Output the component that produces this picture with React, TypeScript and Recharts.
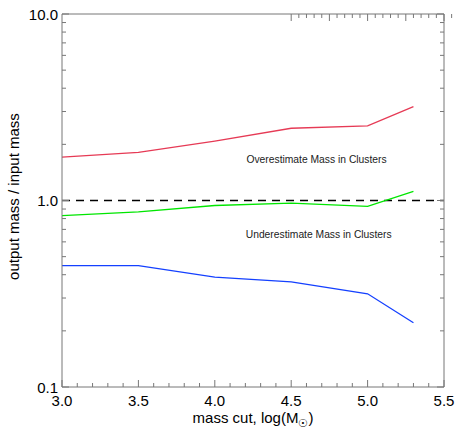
import { LineChart, Line, XAxis, YAxis, ReferenceLine, ReferenceDot, Label } from "recharts";

// mass cut, log(Msun)
const massCut = [3.0, 3.5, 4.0, 4.5, 5.0, 5.3];
// output mass / input mass for each run
const overRatio = [1.71, 1.81, 2.08, 2.44, 2.51, 3.19];
const matchRatio = [0.83, 0.87, 0.94, 0.967, 0.93, 1.12];
const underRatio = [0.447, 0.447, 0.388, 0.366, 0.316, 0.221];

const xMajorTicks = [3.0, 3.5, 4.0, 4.5, 5.0, 5.5];
const xMinorTicks = [
    3.1, 3.2, 3.3, 3.4, 3.6, 3.7, 3.8, 3.9, 4.1, 4.2, 4.3, 4.4,
    4.6, 4.7, 4.8, 4.9, 5.1, 5.2, 5.3, 5.4
];
const yMajorTicks = [0.1, 1, 10];
const yMinorTicks = [0.2, 0.3, 0.4, 0.5, 0.6, 0.7, 0.8, 0.9, 2, 3, 4, 5, 6, 7, 8, 9];

const xAllTicks = [...xMajorTicks, ...xMinorTicks];
const yAllTicks = [...yMajorTicks, ...yMinorTicks];

const AXIS = "#777";
const FONT = "'Liberation Sans', Arial, Helvetica, sans-serif";
const LABEL_SIZE = 15;

const chartData = massCut.map((m, i) => ({
    m,
    over: overRatio[i],
    match: matchRatio[i],
    under: underRatio[i]
}));

const xDomain: [number, number] = [3, 5.5];
const yDomain: [number, number] = [0.1, 10];

// inward tick marks (IDL style), labels only on the bottom / left side
const makeTick = (side: "bottom" | "top" | "left" | "right", majors: number[]) => (props: any) => {
    const { x, y, payload } = props;
    const major = majors.includes(payload.value);
    const len = major ? 7 : 4;
    if (side === "bottom") {
        return (
            <g>
                <line x1={x} y1={y} x2={x} y2={y - len} stroke={AXIS} />
                {major && (
                    <text x={x} y={y + 18.5} textAnchor="middle" fontSize={LABEL_SIZE} fill="#000">
                        {payload.value.toFixed(1)}
                    </text>
                )}
            </g>
        );
    }
    if (side === "top") return <line x1={x} y1={y} x2={x} y2={y + len} stroke={AXIS} />;
    if (side === "right") return <line x1={x} y1={y} x2={x - len} y2={y} stroke={AXIS} />;
    return (
        <g>
            <line x1={x} y1={y} x2={x + len} y2={y} stroke={AXIS} />
            {major && (
                <text x={x - 4} y={y + 5.5} textAnchor="end" fontSize={LABEL_SIZE} fill="#000">
                    {payload.value.toFixed(1)}
                </text>
            )}
        </g>
    );
};

const XTitle = ({ viewBox }: any) => (
    <text x={viewBox.x + viewBox.width / 2} y={423} textAnchor="middle" fontSize={LABEL_SIZE} fill="#000">
        mass cut, log(M
        <tspan dy={4} fontSize={10.5}>☉</tspan>
        <tspan dy={-4}>)</tspan>
    </text>
);

const YTitle = ({ viewBox }: any) => {
    const cy = viewBox.y + viewBox.height / 2 - 4;
    return (
        <text x={19} y={cy} transform={`rotate(-90, 19, ${cy})`} textAnchor="middle" fontSize={LABEL_SIZE} fill="#000">
            output mass / input mass
        </text>
    );
};

export default function App() {
    return (
        <div style={{ position: "absolute", left: 0, top: 0, width: 458, height: 432, background: "#fff" }}>
            <LineChart
                width={458}
                height={432}
                data={chartData}
                margin={{ top: 13, right: 13, bottom: 0, left: 0 }}
                style={{ fontFamily: FONT }}
            >
                <XAxis
                    xAxisId="x"
                    dataKey="m"
                    type="number"
                    domain={xDomain}
                    allowDataOverflow
                    ticks={xAllTicks}
                    interval={0}
                    height={45}
                    axisLine={{ stroke: AXIS }}
                    tickLine={false}
                    tickSize={0}
                    tickMargin={0}
                    tick={makeTick("bottom", xMajorTicks)}
                >
                    <Label content={XTitle} />
                </XAxis>
                <XAxis
                    xAxisId="top"
                    orientation="top"
                    type="number"
                    domain={xDomain}
                    allowDataOverflow
                    ticks={xAllTicks}
                    interval={0}
                    height={1}
                    axisLine={{ stroke: AXIS }}
                    tickLine={false}
                    tickSize={0}
                    tickMargin={0}
                    tick={makeTick("top", xMajorTicks)}
                />

                <YAxis
                    yAxisId="y"
                    type="number"
                    scale="log"
                    domain={yDomain}
                    allowDataOverflow
                    ticks={yAllTicks}
                    interval={0}
                    width={62}
                    axisLine={{ stroke: AXIS }}
                    tickLine={false}
                    tickSize={0}
                    tickMargin={0}
                    tick={makeTick("left", yMajorTicks)}
                >
                    <Label content={YTitle} />
                </YAxis>
                <YAxis
                    yAxisId="right"
                    orientation="right"
                    type="number"
                    scale="log"
                    domain={yDomain}
                    allowDataOverflow
                    ticks={yAllTicks}
                    interval={0}
                    width={1}
                    axisLine={{ stroke: AXIS }}
                    tickLine={false}
                    tickSize={0}
                    tickMargin={0}
                    tick={makeTick("right", yMajorTicks)}
                />

                <ReferenceLine xAxisId="x" yAxisId="y" y={1} stroke="#000" strokeWidth={1.3} strokeDasharray="8 6" />

                <ReferenceDot xAxisId="x" yAxisId="y" x={4.666} y={1.66} r={0} fill="none" stroke="none">
                    <Label value="Overestimate Mass in Clusters" position="center" fontSize={10.3} fill="#222" />
                </ReferenceDot>
                <ReferenceDot xAxisId="x" yAxisId="y" x={4.68} y={0.66} r={0} fill="none" stroke="none">
                    <Label value="Underestimate Mass in Clusters" position="center" fontSize={10.3} fill="#222" />
                </ReferenceDot>

                <Line xAxisId="x" yAxisId="y" type="linear" dataKey="over" stroke="#e63a55" strokeWidth={1.3} dot={false} isAnimationActive={false} />
                <Line xAxisId="x" yAxisId="y" type="linear" dataKey="match" stroke="#00e600" strokeWidth={1.3} dot={false} isAnimationActive={false} />
                <Line xAxisId="x" yAxisId="y" type="linear" dataKey="under" stroke="#1440ff" strokeWidth={1.3} dot={false} isAnimationActive={false} />
            </LineChart>
        </div>
    );
}
